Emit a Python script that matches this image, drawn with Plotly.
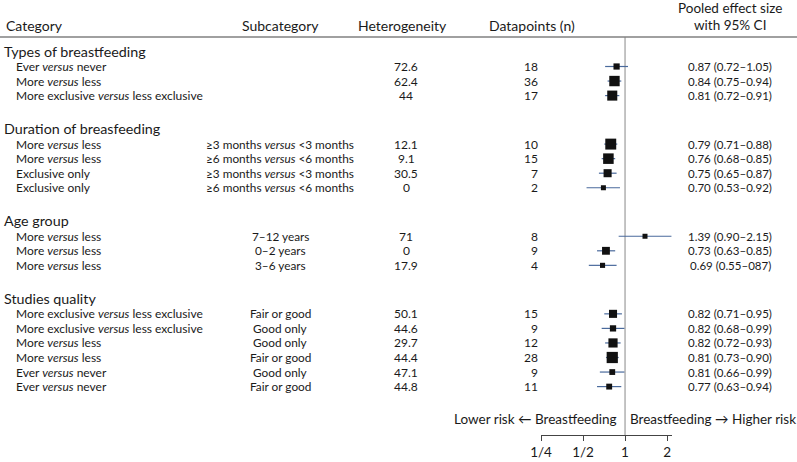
import math
import plotly.graph_objects as go

# ---- data ----
groups = ["Types of breastfeeding", "Duration of breasfeeding", "Age group", "Studies quality"]

categories = [
    ["Ever <i>versus</i> never", "More <i>versus</i> less", "More exclusive <i>versus</i> less exclusive"],
    ["More <i>versus</i> less", "More <i>versus</i> less", "Exclusive only", "Exclusive only"],
    ["More <i>versus</i> less", "More <i>versus</i> less", "More <i>versus</i> less"],
    ["More exclusive <i>versus</i> less exclusive", "More exclusive <i>versus</i> less exclusive",
     "More <i>versus</i> less", "More <i>versus</i> less", "Ever <i>versus</i> never", "Ever <i>versus</i> never"],
]
subcategories = [
    ["", "", ""],
    ["≥3 months <i>versus</i> <3 months", "≥6 months <i>versus</i> <6 months",
     "≥3 months <i>versus</i> <3 months", "≥6 months <i>versus</i> <6 months"],
    ["7–12 years", "0–2 years", "3–6 years"],
    ["Fair or good", "Good only", "Good only", "Fair or good", "Good only", "Fair or good"],
]
heterogeneity = [
    ["72.6", "62.4", "44"],
    ["12.1", "9.1", "30.5", "0"],
    ["71", "0", "17.9"],
    ["50.1", "44.6", "29.7", "44.4", "47.1", "44.8"],
]
datapoints = [
    [18, 36, 17],
    [10, 15, 7, 2],
    [8, 9, 4],
    [15, 9, 12, 28, 9, 11],
]
effect = [
    [0.87, 0.84, 0.81],
    [0.79, 0.76, 0.75, 0.70],
    [1.39, 0.73, 0.69],
    [0.82, 0.82, 0.82, 0.81, 0.81, 0.77],
]
ci_low = [
    [0.72, 0.75, 0.72],
    [0.71, 0.68, 0.65, 0.53],
    [0.90, 0.63, 0.55],
    [0.71, 0.68, 0.72, 0.73, 0.66, 0.63],
]
ci_high = [
    [1.05, 0.94, 0.91],
    [0.88, 0.85, 0.87, 0.92],
    [2.15, 0.85, 0.87],
    [0.95, 0.99, 0.93, 0.90, 0.99, 0.94],
]
effect_labels = [
    ["0.87 (0.72–1.05)", "0.84 (0.75–0.94)", "0.81 (0.72–0.91)"],
    ["0.79 (0.71–0.88)", "0.76 (0.68–0.85)", "0.75 (0.65–0.87)", "0.70 (0.53–0.92)"],
    ["1.39 (0.90–2.15)", "0.73 (0.63–0.85)", "0.69 (0.55–087)"],
    ["0.82 (0.71–0.95)", "0.82 (0.68–0.99)", "0.82 (0.72–0.93)",
     "0.81 (0.73–0.90)", "0.81 (0.66–0.99)", "0.77 (0.63–0.94)"],
]
tick_vals = [0.25, 0.5, 1, 2]
tick_text = ["1/4", "1/2", "1", "2"]

# ---- layout constants (pixel space) ----
W, H = 797, 462
FONT = "Lato"
TXT = "#1a1a1a"
CI_COL = "#4a6a9c"

# row positions
group_y, row_y = [], []
y = 51
for g, cats in enumerate(categories):
    group_y.append(y)
    y += 15.5
    ys = []
    for _ in cats:
        ys.append(y)
        y += 14.55
    row_y.append(ys)
    y += 33 - 14.55

annotations = []


def label(x, yy, text, size=12, anchor="left"):
    annotations.append(dict(x=x, y=yy, xref="x", yref="y", text=text, showarrow=False,
                            xanchor=anchor, yanchor="middle", borderpad=0, borderwidth=0,
                            font=dict(family=FONT, size=size, color=TXT)))


# header
label(6, 25, "Category", 14)
label(280, 25, "Subcategory", 14, "center")
label(402, 25, "Heterogeneity", 14, "center")
label(532, 25, "Datapoints (n)", 14, "center")
label(730, 8, "Pooled effect size", 13.5, "center")
label(730, 25, "with 95% CI", 13.5, "center")

for g in range(len(groups)):
    label(4, group_y[g], groups[g], 14.3)
    for i, yy in enumerate(row_y[g]):
        label(16, yy, categories[g][i])
        if subcategories[g][i]:
            label(280, yy, subcategories[g][i], 11.8, "center")
        label(406, yy, heterogeneity[g][i], 12, "center")
        label(538, yy, str(datapoints[g][i]), 12, "right")
        label(730, yy, effect_labels[g][i], 11.5, "center")

label(617, 419, "Lower risk ← Breastfeeding", 13.5, "right")
label(630, 419, "Breastfeeding → Higher risk", 13.5, "left")

# ---- forest marks ----
ci_x, ci_y, pt_x, pt_y, sizes = [], [], [], [], []
for g in range(len(groups)):
    for i, yy in enumerate(row_y[g]):
        ci_x += [ci_low[g][i], ci_high[g][i], None]
        ci_y += [yy, yy, None]
        pt_x.append(effect[g][i])
        pt_y.append(yy)
        # box size from precision (inverse of log CI width)
        sizes.append(max(5, 2.35 / math.log(ci_high[g][i] / ci_low[g][i])))

fig = go.Figure()
fig.add_trace(go.Scatter(x=ci_x, y=ci_y, xaxis="x2", yaxis="y", mode="lines",
                         line=dict(color=CI_COL, width=1.2), hoverinfo="skip", showlegend=False))
fig.add_trace(go.Scatter(x=pt_x, y=pt_y, xaxis="x2", yaxis="y", mode="markers",
                         marker=dict(symbol="square", size=sizes, color="#111111", opacity=1,
                                     line=dict(width=0)),
                         showlegend=False))

# header rule and reference line
fig.add_shape(type="line", xref="paper", yref="y", x0=0, x1=1, y0=37, y1=37,
              line=dict(color="#808080", width=1.5))
fig.add_shape(type="line", xref="x2", yref="y", x0=1, x1=1, y0=37, y1=435,
              line=dict(color="#b0b0b0", width=1.5), layer="below")

x_lo, x_hi = 0.25, 2.17
fig.update_layout(
    template="none",
    width=W, height=H,
    margin=dict(l=0, r=0, t=0, b=0, pad=0, autoexpand=False),
    paper_bgcolor="white", plot_bgcolor="rgba(0,0,0,0)",
    font=dict(family=FONT, color=TXT),
    annotations=annotations,
    xaxis=dict(range=[0, W], domain=[0, 1], visible=False, fixedrange=True, automargin=False),
    yaxis=dict(range=[H, 0], domain=[0, 1], visible=False, fixedrange=True, automargin=False),
    xaxis2=dict(type="log", range=[math.log10(x_lo), math.log10(x_hi)],
                domain=[541 / W, 672 / W], anchor="free", position=(H - 435) / H,
                automargin=False,
                showline=True, linecolor="#444444", linewidth=1.2,
                ticks="outside", ticklen=5, tickcolor="#444444", tickwidth=1.2,
                tickvals=tick_vals, ticktext=tick_text,
                tickfont=dict(family=FONT, size=13.5, color=TXT),
                showgrid=False, zeroline=False, fixedrange=True),
    hovermode="closest",
)

# drop the browser's default 8px body margin so the figure sits at the page corner
fig.write_html("out.html", config={"displayModeBar": False},
               post_script="document.body.style.margin='0px';")
